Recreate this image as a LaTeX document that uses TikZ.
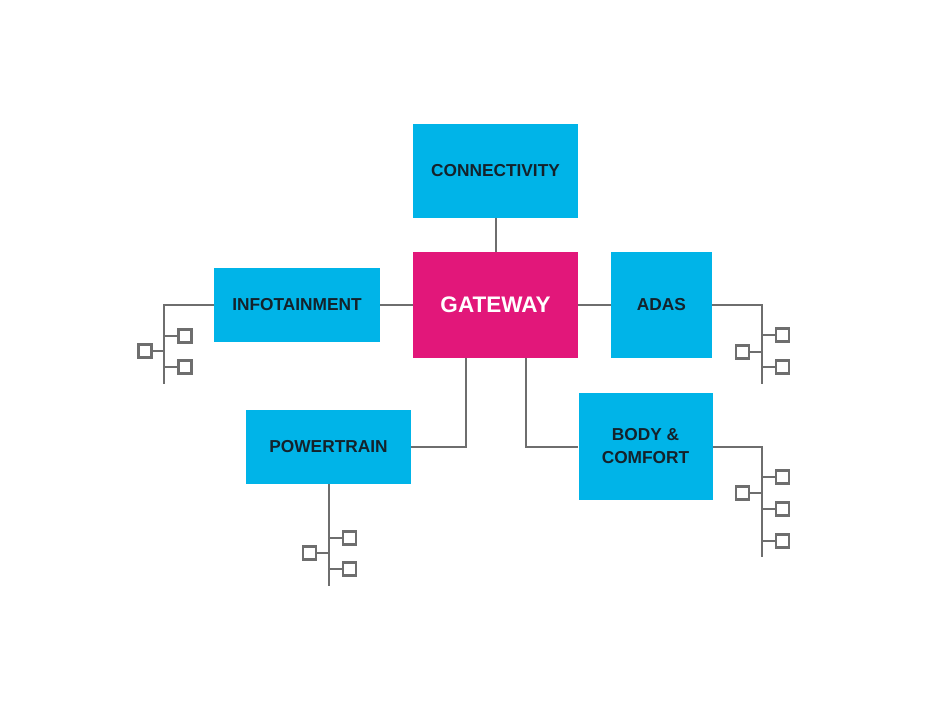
\documentclass[tikz,border=0pt]{standalone}
\usepackage{fontspec}
\setmainfont{Liberation Sans}
\definecolor{cblue}{HTML}{00B4E8}
\definecolor{cmag}{HTML}{E2177A}
\definecolor{cline}{HTML}{6E6E6E}
\definecolor{ctext}{HTML}{14222B}
\tikzset{
  blk/.style={fill=cblue, draw=none, inner sep=0pt, align=center, text=ctext,
    font=\fontsize{17.3}{23}\selectfont\bfseries},
  gwblk/.style={blk, fill=cmag, text=white, font=\fontsize{22.5}{26}\selectfont\bfseries},
  wire/.style={draw=cline, line width=2},
  ecu/.style={draw=cline, line width=2.2, fill=white, minimum size=13, inner sep=0pt}
}
\begin{document}
\begin{tikzpicture}[x=1pt,y=-1pt]
\useasboundingbox (0,0) rectangle (950,707);
% main blocks
\node[blk, minimum width=165, minimum height=94] (conn) at (495.5,170.5) {CONNECTIVITY};
\node[gwblk, minimum width=165, minimum height=106] (gw) at (495.5,305) {GATEWAY};
\node[blk, minimum width=166, minimum height=74] (info) at (297,305) {INFOTAINMENT};
\node[blk, minimum width=101, minimum height=106] (adas) at (661.5,305) {ADAS};
\node[blk, minimum width=165, minimum height=74] (pt) at (328.5,447) {POWERTRAIN};
\node[blk, minimum width=134, minimum height=107] (body) at (645.5,446.5) {BODY \&\\COMFORT};
% gateway links
\draw[wire] (conn) -- (gw);
\draw[wire] (gw.west) -- (info.east);
\draw[wire] (gw.east) -- (adas.west);
\draw[wire] ([xshift=-29.5]gw.south) |- (pt.east);
\draw[wire] ([xshift=30.5]gw.south) |- (body.west);
% infotainment bus
\coordinate (ibB) at (164,384);
\draw[wire] (info.west) -| (ibB);
\node[ecu] (ia) at (185,336) {};
\node[ecu] (ib) at (185,367) {};
\node[ecu] (ic) at (145,351) {};
\draw[wire] (ia.west) -- (ia.west -| ibB);
\draw[wire] (ib.west) -- (ib.west -| ibB);
\draw[wire] (ic.east) -- (ic.east -| ibB);
% adas bus
\coordinate (abB) at (762,384);
\draw[wire] (adas.east) -| (abB);
\node[ecu] (aa) at (782.5,335) {};
\node[ecu] (ab) at (782.5,367) {};
\node[ecu] (ac) at (742.5,352) {};
\draw[wire] (aa.west) -- (aa.west -| abB);
\draw[wire] (ab.west) -- (ab.west -| abB);
\draw[wire] (ac.east) -- (ac.east -| abB);
% powertrain bus
\coordinate (pbB) at (328.5,586);
\draw[wire] (pt.south) -- (pbB);
\node[ecu] (pa) at (349.5,538) {};
\node[ecu] (pb) at (349.5,569) {};
\node[ecu] (pc) at (309.5,553) {};
\draw[wire] (pa.west) -- (pa.west -| pbB);
\draw[wire] (pb.west) -- (pb.west -| pbB);
\draw[wire] (pc.east) -- (pc.east -| pbB);
% body bus
\coordinate (bbB) at (762,557);
\draw[wire] (body.east) -| (bbB);
\node[ecu] (ba) at (782.5,477) {};
\node[ecu] (bb) at (782.5,509) {};
\node[ecu] (bc) at (782.5,541) {};
\node[ecu] (bd) at (742.5,493) {};
\draw[wire] (ba.west) -- (ba.west -| bbB);
\draw[wire] (bb.west) -- (bb.west -| bbB);
\draw[wire] (bc.west) -- (bc.west -| bbB);
\draw[wire] (bd.east) -- (bd.east -| bbB);
\end{tikzpicture}
\end{document}
